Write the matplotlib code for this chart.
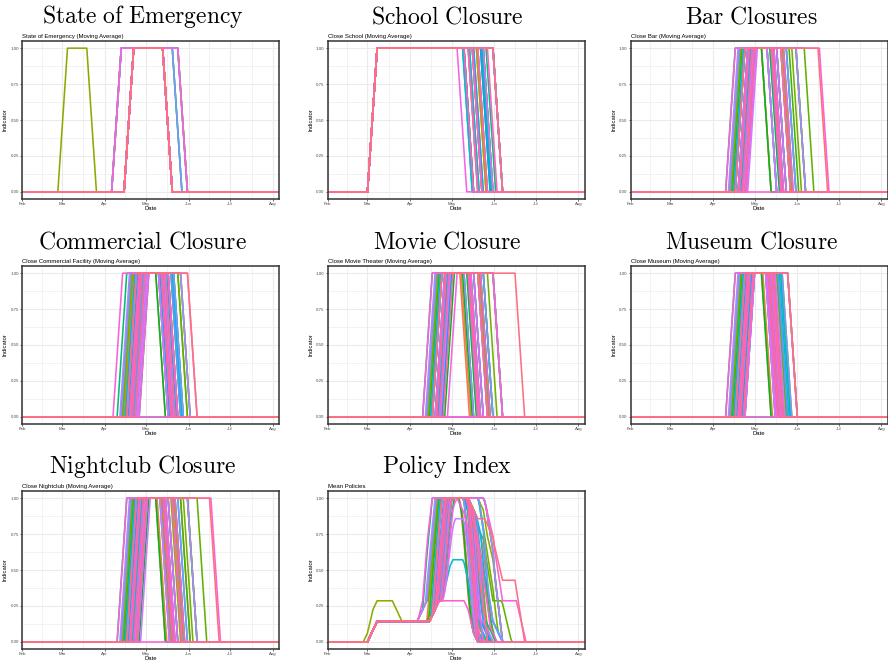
import numpy as np
import pandas as pd
import matplotlib
matplotlib.use("Agg")
import matplotlib.pyplot as plt
import matplotlib.dates as mdates

plt.rcParams["mathtext.fontset"] = "cm"
plt.rcParams["font.family"] = ["Liberation Sans", "DejaVu Sans"]

prefectures = ["Aichi", "Akita", "Aomori", "Chiba", "Ehime", "Fukui", "Fukuoka", "Fukushima",
               "Gifu", "Gunma", "Hiroshima", "Hokkaido", "Hyogo", "Ibaraki", "Ishikawa", "Iwate",
               "Kagawa", "Kagoshima", "Kanagawa", "Kochi", "Kumamoto", "Kyoto", "Mie", "Miyagi",
               "Miyazaki", "Nagano", "Nagasaki", "Nara", "Niigata", "Oita", "Okayama", "Okinawa",
               "Osaka", "Saga", "Saitama", "Shiga", "Shimane", "Shizuoka", "Tochigi", "Tokushima",
               "Tokyo", "Tottori", "Toyama", "Wakayama", "Yamagata", "Yamaguchi", "Yamanashi"]

# first and last day of each measure (2020, "MM-DD"), None = never applied
emergency_start = ["04-16", "04-16", "04-16", "04-07", "04-16", "04-16", "04-07", "04-16",
                   "04-16", "04-16", "04-16", "04-16", "04-07", "04-16", "04-16", "04-16",
                   "04-16", "04-16", "04-07", "04-16", "04-16", "04-16", "04-16", "04-16",
                   "04-16", "04-16", "04-16", "04-16", "04-16", "04-16", "04-16", "04-16",
                   "04-07", "04-16", "04-07", "04-16", "04-16", "04-16", "04-16", "04-16",
                   "04-07", "04-16", "04-16", "04-16", "04-16", "04-16", "04-16"]
emergency_end = ["05-13", "05-13", "05-13", "05-24", "05-13", "05-13", "05-13", "05-13",
                 "05-13", "05-13", "05-13", "05-24", "05-20", "05-13", "05-13", "05-13",
                 "05-13", "05-13", "05-24", "05-13", "05-13", "05-20", "05-13", "05-13",
                 "05-13", "05-13", "05-13", "05-13", "05-13", "05-13", "05-13", "05-13",
                 "05-20", "05-13", "05-24", "05-13", "05-13", "05-13", "05-13", "05-13",
                 "05-24", "05-13", "05-13", "05-13", "05-13", "05-13", "05-13"]
# Hokkaido declared its own emergency before the national one
hokkaido_start = "02-28"
hokkaido_end = "03-19"

school_start = ["03-02", "03-02", "03-02", "03-02", "03-02", "03-02", "03-02", "03-02",
                "03-02", "03-02", "03-02", "03-02", "03-02", "03-02", "03-02", "03-02",
                "03-02", "03-02", "03-02", "03-02", "03-02", "03-02", "03-02", "03-02",
                "03-02", "03-02", "03-02", "03-02", "03-02", "03-02", "03-02", "03-02",
                "03-02", "03-02", "03-02", "03-02", "03-02", "03-02", "03-02", "03-02",
                "03-02", "03-02", "03-02", "03-02", "03-02", "03-02", "03-02"]
school_end = ["05-24", "05-10", "05-10", "05-31", "05-19", "05-17", "05-20", "05-14",
              "05-19", "05-24", "05-23", "05-31", "05-31", "05-24", "05-22", "05-10",
              "05-16", "05-10", "05-31", "05-26", "05-13", "05-31", "05-23", "05-09",
              "05-09", "05-14", "05-16", "05-31", "05-24", "05-17", "05-22", "05-20",
              "05-31", "05-16", "05-31", "05-20", "05-13", "05-24", "05-16", "05-05",
              "05-31", "05-10", "05-27", "05-16", "05-13", "05-20", "05-31"]

bar_start = ["04-14", "04-22", "04-23", "04-14", "04-22", "04-18", "04-14", "04-22",
             "04-18", "04-18", "04-22", "04-15", "04-15", "04-18", "04-16", "04-25",
             "04-22", "04-25", "04-11", "04-20", "04-20", "04-17", "04-21", "04-18",
             "04-26", "04-23", "04-22", "04-17", "04-20", "04-24", "04-25", "04-24",
             "04-14", "04-21", "04-13", "04-18", "04-27", "04-24", "04-20", "04-26",
             "04-11", None, "04-21", "04-23", "04-21", "04-25", "04-18"]
bar_end = ["05-24", "05-06", "05-06", "05-31", "05-15", "05-17", "05-21", "05-10",
           "05-14", "05-17", "05-20", "05-31", "05-28", "06-06", "05-26", "05-06",
           "05-12", "05-10", "05-31", "05-14", "05-13", "05-24", "05-15", "05-13",
           "05-10", "05-14", "05-17", "05-22", "05-17", "05-13", "05-14", "05-20",
           "05-24", "05-10", "05-31", "05-20", "05-10", "05-14", "05-17", "05-15",
           "06-17", None, "05-22", "05-14", "05-13", "05-20", "06-16"]

commercial_start = ["04-14", "04-24", "04-22", "04-14", "04-23", "04-16", "04-14", "04-20",
                    "04-18", "04-18", "04-22", "04-15", "04-15", "04-18", "04-14", "04-27",
                    "04-22", "04-25", "04-11", "04-21", "04-20", "04-17", "04-20", "04-18",
                    None, "04-23", "04-22", "04-17", "04-19", "04-24", "04-25", "04-23",
                    "04-14", "04-21", "04-13", "04-18", "04-26", "04-25", "04-20", "04-27",
                    "04-08", None, "04-20", "04-21", "04-22", "04-24", "04-18"]
commercial_end = ["05-20", "05-08", "05-10", "05-26", "05-13", "05-14", "05-17", "05-11",
                  "05-14", "05-17", "05-19", "05-24", "05-21", "05-24", "05-17", "05-08",
                  "05-12", "05-10", "05-26", "05-14", "05-13", "05-21", "05-12", "05-13",
                  None, "05-14", "05-15", "05-20", "05-16", "05-11", "05-14", "05-19",
                  "05-21", "05-10", "05-26", "05-17", "05-10", "05-14", "05-17", "05-12",
                  "05-31", None, "05-17", "05-13", "05-12", "05-15", "05-31"]

movie_start = ["04-14", "04-22", "04-24", "04-14", "04-22", "04-18", "04-14", "04-22",
               "04-18", "04-18", "04-22", "04-15", "04-15", "04-18", "04-16", "04-27",
               "04-22", "04-25", "04-11", "04-21", "04-20", "04-17", "04-21", "04-18",
               None, "04-23", "04-22", "04-17", "04-20", "04-24", "04-25", "04-24",
               "04-14", "04-21", "04-13", "04-18", None, "04-24", "04-20", "04-29",
               "04-11", None, "04-21", "04-23", "04-21", "04-26", "04-18"]
movie_end = ["05-24", "05-07", "05-08", "05-31", "05-13", "05-15", "05-21", "05-10",
             "05-14", "05-17", "05-20", "05-31", "05-27", "05-24", "05-22", "05-09",
             "05-12", "05-10", "05-31", "05-14", "05-13", "05-24", "05-15", "05-13",
             None, "05-14", "05-17", "05-22", "05-17", "05-13", "05-14", "05-20",
             "05-24", "05-10", "05-31", "05-20", None, "05-14", "05-17", "05-15",
             "05-31", None, "05-22", "05-14", "05-13", "05-20", "06-16"]

museum_start = ["04-14", "04-22", "04-23", "04-14", "04-22", "04-17", "04-14", "04-21",
                "04-18", "04-18", "04-22", "04-15", "04-15", "04-18", "04-16", "04-25",
                "04-22", "04-24", "04-11", "04-20", "04-20", "04-17", "04-21", "04-18",
                None, "04-22", "04-22", "04-17", "04-19", "04-23", "04-25", "04-24",
                "04-14", "04-21", "04-13", "04-18", "04-25", "04-24", "04-20", "04-25",
                "04-11", None, "04-20", "04-22", "04-21", "04-24", "04-18"]
museum_end = ["05-18", "05-06", "05-07", "05-25", "05-11", "05-13", "05-15", "05-09",
              "05-13", "05-14", "05-17", "05-20", "05-21", "05-17", "05-15", "05-06",
              "05-11", "05-09", "05-25", "05-12", "05-12", "05-20", "05-11", "05-12",
              None, "05-13", "05-14", "05-19", "05-14", "05-10", "05-13", "05-18",
              "05-21", "05-09", "05-25", "05-16", "05-09", "05-13", "05-14", "05-10",
              "05-25", None, "05-15", "05-12", "05-11", "05-14", "05-25"]

nightclub_start = ["04-14", "04-22", "04-23", "04-14", "04-22", "04-17", "04-14", "04-21",
                   "04-18", "04-18", "04-22", "04-15", "04-15", "04-18", "04-16", "04-27",
                   "04-22", "04-25", "04-11", "04-20", "04-20", "04-17", "04-21", "04-18",
                   "04-24", "04-23", "04-22", "04-17", "04-19", "04-24", "04-26", "04-24",
                   "04-14", "04-21", "04-13", "04-18", "04-28", "04-24", "04-20", "04-26",
                   "04-11", None, "04-20", "04-23", "04-21", "04-25", "04-18"]
nightclub_end = ["05-26", "05-08", "05-09", "05-31", "05-15", "05-17", "05-21", "05-12",
                 "05-14", "05-19", "05-22", "05-31", "05-28", "06-07", "05-26", "05-08",
                 "05-13", "05-11", "05-31", "05-14", "05-13", "05-24", "05-15", "05-14",
                 "05-20", "05-14", "05-17", "05-22", "05-17", "05-13", "05-14", "05-20",
                 "05-24", "05-11", "05-31", "05-20", "05-11", "05-15", "05-17", "05-15",
                 "06-17", None, "05-22", "05-14", "05-13", "05-20", "06-16"]

days = pd.date_range("2020-01-15", "2020-08-15")
months = pd.date_range("2020-02-01", "2020-08-01", freq="MS")


def day(s):
    return pd.Timestamp("2020-" + s)


def moving_average(starts, ends, extra=None):
    flag = pd.DataFrame(0.0, index=days, columns=prefectures)
    for p, s, e in zip(prefectures, starts, ends):
        if s is not None:
            flag.loc[day(s):day(e), p] = 1.0
    if extra is not None:
        p, s, e = extra
        flag.loc[day(s):day(e), p] = 1.0
    return flag.rolling(7, min_periods=1).mean()


def hcl_hex(h, c, l):
    # polar LUV -> sRGB, same as R's hcl()
    xn, yn, zn = 95.047, 100.0, 108.883
    un = 4 * xn / (xn + 15 * yn + 3 * zn)
    vn = 9 * yn / (xn + 15 * yn + 3 * zn)
    U = c * np.cos(np.radians(h))
    V = c * np.sin(np.radians(h))
    Y = yn * ((l + 16) / 116) ** 3 if l > 8 else yn * l / 903.3
    u = U / (13 * l) + un
    v = V / (13 * l) + vn
    X = 9 * Y * u / (4 * v)
    Z = -X / 3 - 5 * Y + 3 * Y / v
    m = np.array([[3.240479, -1.537150, -0.498535],
                  [-0.969256, 1.875992, 0.041556],
                  [0.055648, -0.204043, 1.057311]])
    rgb = m @ (np.array([X, Y, Z]) / 100)
    rgb = np.where(rgb <= 0.0031308, 12.92 * rgb, 1.055 * np.abs(rgb) ** (1 / 2.4) - 0.055)
    return tuple(np.clip(rgb, 0, 1))


hues = np.linspace(15, 375, len(prefectures) + 1)[:-1]
colors = [hcl_hex(h, 100, 65) for h in hues]

emergency = moving_average(emergency_start, emergency_end,
                           ("Hokkaido", hokkaido_start, hokkaido_end))
school = moving_average(school_start, school_end)
bar = moving_average(bar_start, bar_end)
commercial = moving_average(commercial_start, commercial_end)
movie = moving_average(movie_start, movie_end)
museum = moving_average(museum_start, museum_end)
nightclub = moving_average(nightclub_start, nightclub_end)
policy = (emergency + school + bar + commercial + movie + museum + nightclub) / 7

panels = [("State of Emergency", "State of Emergency (Moving Average)", emergency),
          ("School Closure", "Close School (Moving Average)", school),
          ("Bar Closures", "Close Bar (Moving Average)", bar),
          ("Commercial Closure", "Close Commercial Facility (Moving Average)", commercial),
          ("Movie Closure", "Close Movie Theater (Moving Average)", movie),
          ("Museum Closure", "Close Museum (Moving Average)", museum),
          ("Nightclub Closure", "Close Nightclub (Moving Average)", nightclub),
          ("Policy Index", "Mean Policies", policy)]

W, H = 888, 660
fig = plt.figure(figsize=(W / 100, H / 100), dpi=100)

col_left = [22, 327.5, 630.5]
col_mid = [142.5, 447.5, 751]
row_top = [41, 266, 491]
pw, ph = 257, 158

mnum = mdates.date2num(months)
minor = (mnum[:-1] + mnum[1:]) / 2

for k, (big, small, frame) in enumerate(panels):
    r, c = divmod(k, 3)
    ax = fig.add_axes([col_left[c] / W, (H - row_top[r] - ph) / H, pw / W, ph / H])
    for p, col in zip(prefectures, colors):
        ax.plot(frame.index, frame[p], color=col, lw=1.15)

    ax.set_xlim(pd.Timestamp("2020-02-01"), pd.Timestamp("2020-08-05 10:00"))
    ax.set_ylim(-0.05, 1.05)
    ax.set_xticks(mnum)
    ax.set_xticks(minor, minor=True)
    ax.xaxis.set_major_formatter(mdates.DateFormatter("%b"))
    ax.set_yticks([0, 0.25, 0.5, 0.75, 1.0])
    ax.set_yticks([0.125, 0.375, 0.625, 0.875], minor=True)
    ax.yaxis.set_major_formatter(plt.FormatStrFormatter("%.2f"))
    ax.grid(which="major", color="#EBEBEB", lw=0.8)
    ax.grid(which="minor", color="#EBEBEB", lw=0.45)
    ax.set_axisbelow(True)
    ax.tick_params(which="major", length=1.5, width=0.5, color="#333333",
                   labelsize=3.2, labelcolor="#4D4D4D", pad=0.8)
    ax.tick_params(which="minor", length=0)
    for s in ax.spines.values():
        s.set_color("#333333")
        s.set_linewidth(1.1)
    ax.set_xlabel("Date", fontsize=4.2, labelpad=0)
    ax.set_ylabel("Indicator", fontsize=4.2, labelpad=2)
    ax.set_title(small, loc="left", fontsize=4.3, pad=2.5)

    fig.text(col_mid[c] / W, 1 - (row_top[r] - 17.5) / H,
             r"$\mathrm{" + big.replace(" ", r"\ ") + "}$",
             ha="center", va="baseline", fontsize=17)

fig.savefig("out.png", dpi=100)
